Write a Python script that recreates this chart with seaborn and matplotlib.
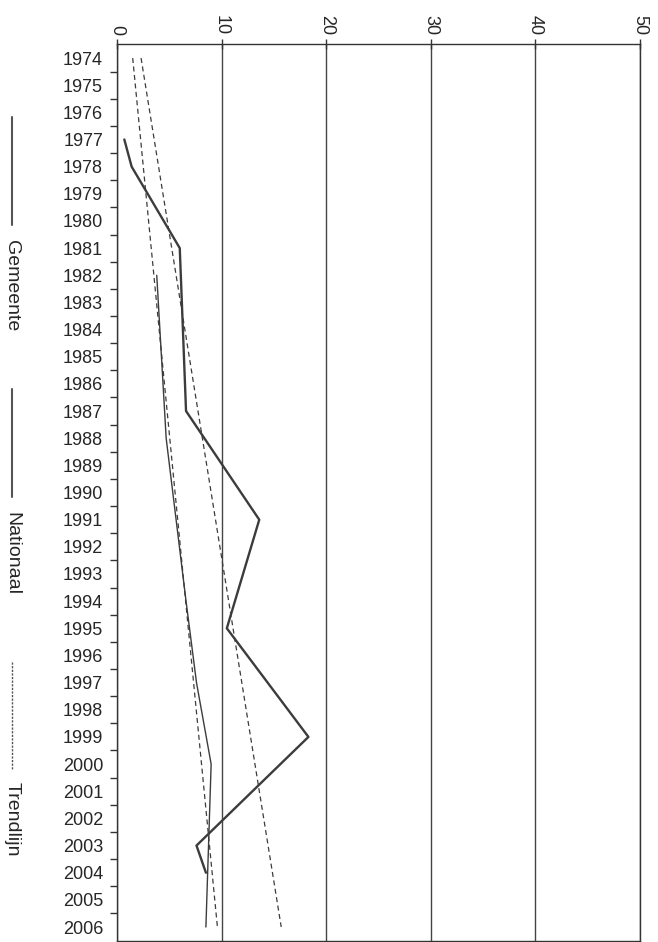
import numpy as np
import pandas as pd
import seaborn as sns
import matplotlib.pyplot as plt
from matplotlib.lines import Line2D

# jaren op de verticale as
jaren = list(range(1974, 2007))

# Gemeente (dikke lijn)
gem_jaar = [1977, 1978, 1981, 1987, 1991, 1995, 1999, 2003, 2004]
gem_waarde = [0.7, 1.4, 6.0, 6.6, 13.6, 10.5, 18.3, 7.6, 8.5]

# Nationaal (dunne lijn)
nat_jaar = [1982, 1985, 1988, 1991, 1994, 1997, 2000, 2006]
nat_waarde = [3.8, 4.25, 4.7, 5.65, 6.6, 7.6, 9.0, 8.5]

# trendlijnen
trend_jaar = [1974, 2006]
trend_gem = [2.3, 15.7]
trend_nat = [1.5, 9.6]

x_ticks = [0, 10, 20, 30, 40, 50]

sns.set_style("white")
plt.rcParams["font.family"] = ["Liberation Sans", "DejaVu Sans"]

fig = plt.figure(figsize=(6.58, 9.42), dpi=100)
ax = fig.add_axes([117 / 658, 0.0015, (640 - 117) / 658, 0.9528 - 0.0015])

kleur = "#3c3c3c"
dash = (0, (4, 2.8))

gem = pd.DataFrame({"jaar": gem_jaar, "waarde": gem_waarde})
nat = pd.DataFrame({"jaar": nat_jaar, "waarde": nat_waarde})

sns.lineplot(data=gem, x="waarde", y="jaar", orient="y", color=kleur, lw=1.7, ax=ax)
sns.lineplot(data=nat, x="waarde", y="jaar", orient="y", color=kleur, lw=1.0, ax=ax)
sns.lineplot(x=trend_gem, y=trend_jaar, orient="y", color=kleur, lw=0.9,
             linestyle=dash, ax=ax)
sns.lineplot(x=trend_nat, y=trend_jaar, orient="y", color=kleur, lw=0.9,
             linestyle=dash, ax=ax)

# assen
ax.set_xlim(0, 50)
ax.set_ylim(2006.5, 1973.5)
ax.xaxis.tick_top()
ax.set_xticks(x_ticks)
ax.set_xticklabels([str(t) for t in x_ticks], rotation=270, fontsize=13)
ax.tick_params(axis="x", direction="inout", length=7, width=1, color="#333", pad=3)
ax.set_yticks(jaren)
ax.set_yticklabels([str(j) for j in jaren], fontsize=13)
ax.set_yticks([j + 0.5 for j in jaren[:-1]], minor=True)
ax.tick_params(axis="y", which="major", length=0, pad=10)
ax.tick_params(axis="y", which="minor", left=True, length=5, width=1, color="#333")
ax.set_xlabel("")
ax.set_ylabel("")
ax.grid(axis="x", color="#444", lw=1.0)
for s in ax.spines.values():
    s.set_color("#333")
    s.set_linewidth(1.0)
    s.set_visible(True)

# legenda (gedraaid)
items = [("Gemeente", 0.876, 0.761, 0.745, "-"),
         ("Nationaal", 0.587, 0.472, 0.456, "-"),
         ("Trendlijn", 0.297, 0.183, 0.170, (0, (1.6, 1.0)))]
for naam, y0, y1, yt, ls in items:
    fig.add_artist(Line2D([0.018, 0.018], [y0, y1], color="#555",
                          lw=1.0 if naam == "Trendlijn" else 1.5,
                          linestyle=ls, transform=fig.transFigure))
    fig.text(0.018, yt, naam, rotation=270, ha="center", va="top", fontsize=14)

fig.savefig("out.png", dpi=100)
